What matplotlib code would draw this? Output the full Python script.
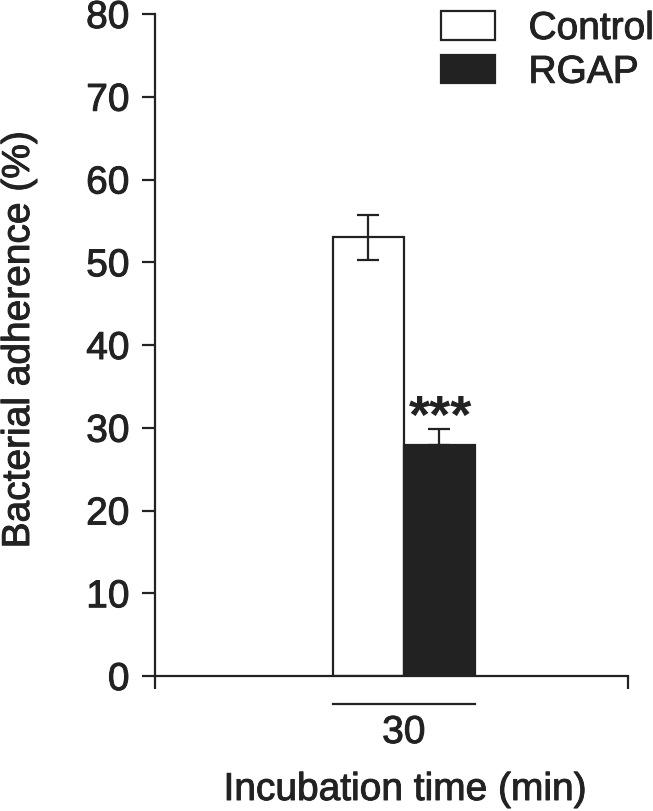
"""Bacterial adherence after 30 min incubation: Control vs RGAP."""
import matplotlib
matplotlib.use("Agg")
import matplotlib.pyplot as plt
import matplotlib.transforms as mtransforms
import matplotlib.patheffects as pe

groups = ["Control", "RGAP"]
means = [53.0, 27.9]
errors = [2.7, 2.0]
time_label = "30"
colors = ["white", "#222222"]
INK = "#222222"
FS = 28

plt.rcParams["font.family"] = ["Liberation Sans", "DejaVu Sans"]
# scanned original has slightly heavier glyphs
heavy = [pe.withStroke(linewidth=0.7, foreground=INK)]

fig = plt.figure(figsize=(6.53, 8.11), dpi=100)
ax = fig.add_axes([155 / 653, 1 - 676 / 811, 473 / 653, 662 / 811])

centers = [0.451, 0.601]
width = 0.15
for x, m, e, c, g in zip(centers, means, errors, colors, groups):
    ax.bar(x, m, width, color=c, edgecolor=INK, linewidth=1.6, label=g, zorder=2)
    lower = e if c == "white" else 0
    ax.errorbar(x, m, yerr=[[lower], [e]], fmt="none", ecolor=INK,
                elinewidth=1.6, capsize=8, capthick=1.6, zorder=3)

# significance marker over the RGAP bar
ax.text(centers[1] + 0.002, 28.0, "***", ha="center", va="bottom",
        fontsize=39, fontweight="bold", color=INK)

ax.set_xlim(0, 1)
ax.set_ylim(0, 80)
ax.set_yticks(range(0, 81, 10))
ax.set_xticks([0, 1])
ax.set_xticklabels([])
for side in ["top", "right"]:
    ax.spines[side].set_visible(False)
for side in ["left", "bottom"]:
    ax.spines[side].set_linewidth(1.6)
    ax.spines[side].set_color(INK)
ax.tick_params(axis="both", direction="out", length=13 * 0.72, width=1.6,
               color=INK, labelsize=FS, labelcolor=INK, pad=9)
for lbl in ax.get_yticklabels():
    lbl.set_path_effects(heavy)

# group bracket and label under the bars
trans = mtransforms.blended_transform_factory(ax.transData, fig.transFigure)
x0 = centers[0] - width / 2
x1 = centers[1] + width / 2
ax.plot([x0, x1], [1 - 704 / 811] * 2, color=INK, lw=1.6, transform=trans, clip_on=False)
ax.text((x0 + x1) / 2, 1 - 733 / 811, time_label, transform=trans, ha="center",
        va="center", fontsize=FS, color=INK, path_effects=heavy)
fig.text(405 / 653, 1 - 790 / 811, "Incubation time (min)", ha="center", va="center",
         fontsize=FS, color=INK, path_effects=heavy)
fig.text(19 / 653, 1 - 340 / 811, "Bacterial adherence (%)", rotation=90,
         ha="center", va="center", fontsize=FS, color=INK, path_effects=heavy)

leg = ax.legend(loc="upper left", bbox_to_anchor=(441 / 653, 1 - 11 / 811),
                bbox_transform=fig.transFigure, frameon=False, fontsize=FS,
                handlelength=1.4, handleheight=0.75, handletextpad=0.85,
                labelspacing=0.2, borderpad=0, borderaxespad=0, labelcolor=INK)
for t in leg.get_texts():
    t.set_path_effects(heavy)

fig.savefig("out.png", dpi=100)
